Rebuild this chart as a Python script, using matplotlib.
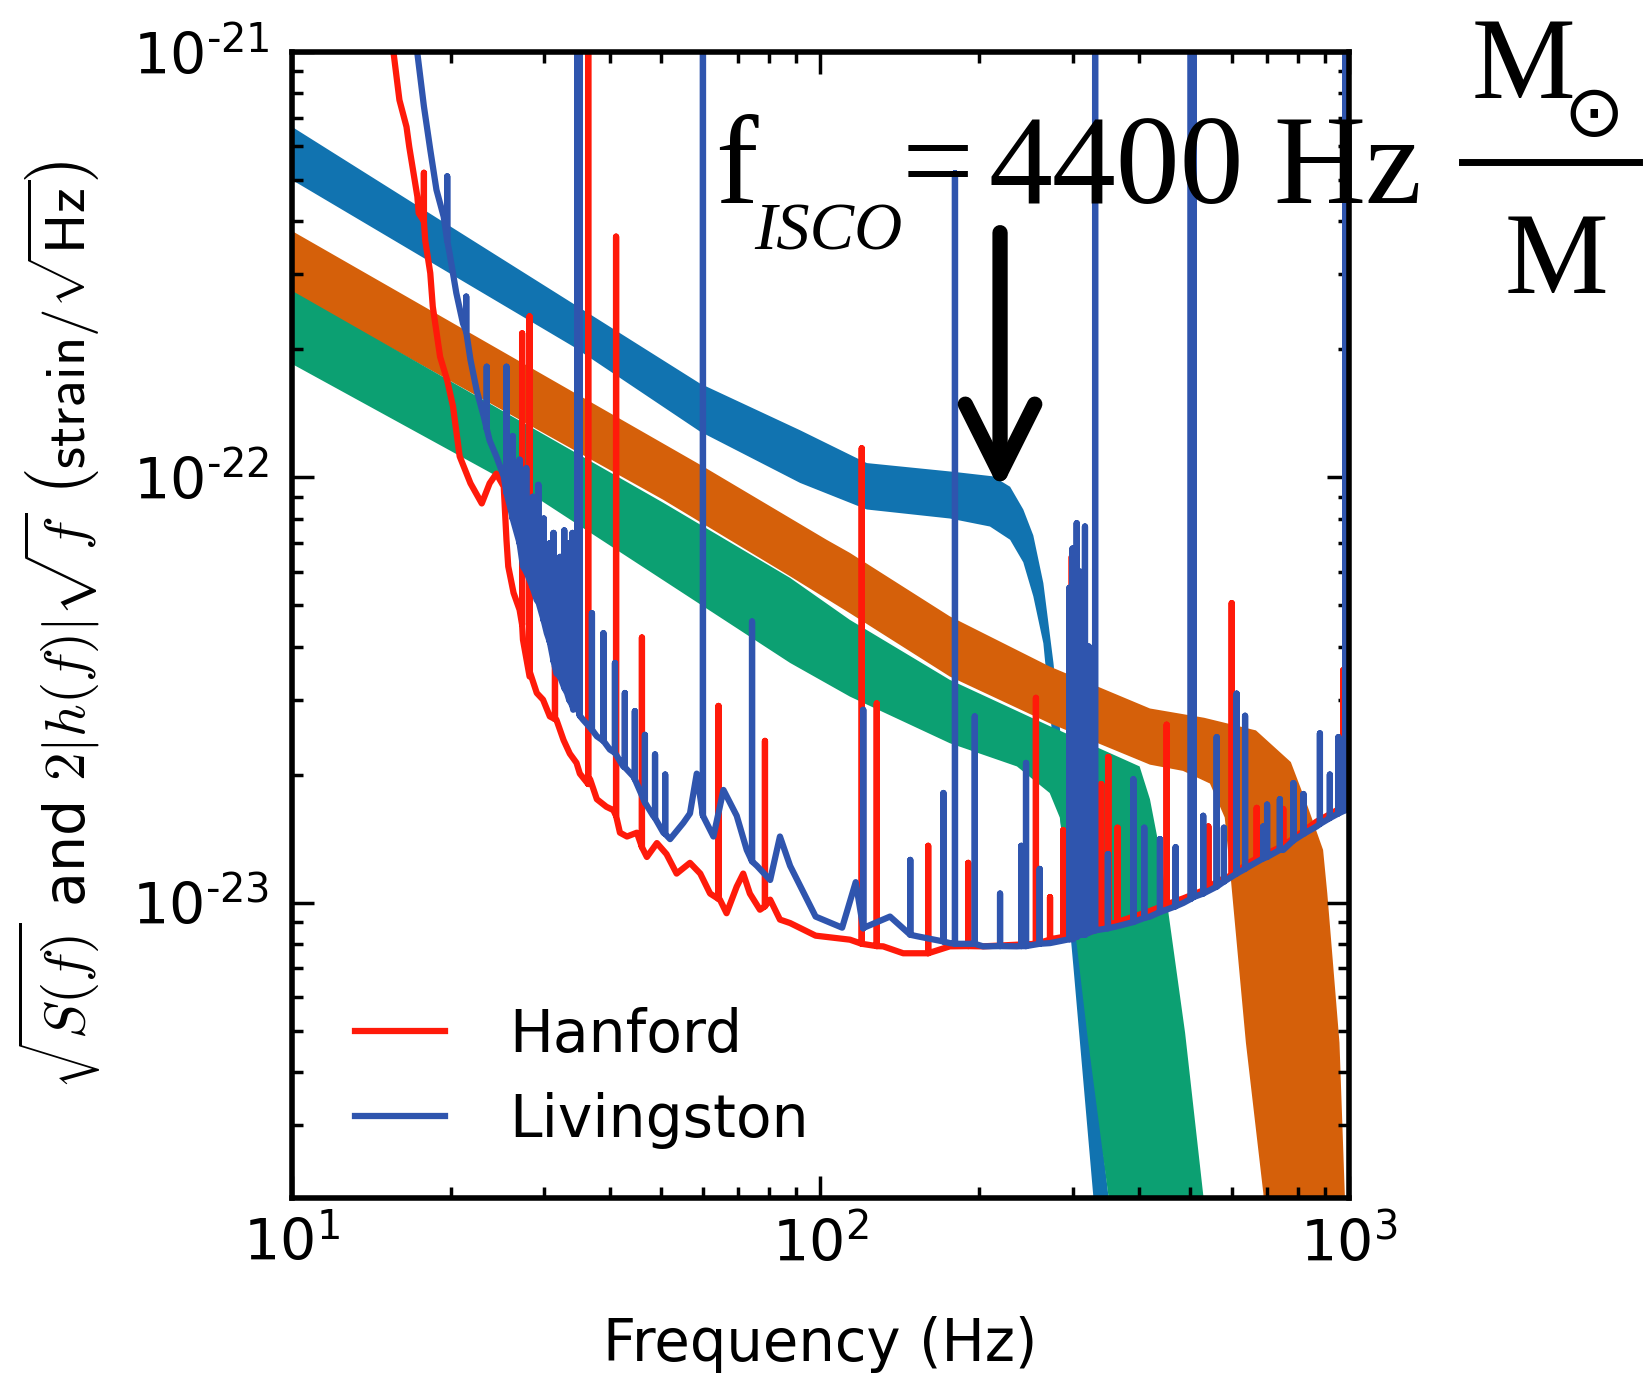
import numpy as np
import matplotlib
matplotlib.use('Agg')
import matplotlib.pyplot as plt
from matplotlib.lines import Line2D
from matplotlib.ticker import FuncFormatter

# amplitudes below are in units of 1e-23 strain/sqrt(Hz), frequencies in Hz
AMP = 1e-23

# ---- template bands 2|h(f)|sqrt(f): upper and lower edges ----
blue_up_f = [10, 34.1, 59.3, 91.6, 122.5, 178.6, 212.3, 228.6, 242.1, 252.9, 264.2, 276.1, 295.1, 316.2, 350.8, 363.1]
blue_up_a = [66.8, 25.6, 16.6, 12.9, 10.8, 10.3, 10.05, 9.5, 8.4, 7.3, 5.64, 3.66, 1.585, 0.631, 0.204, 0.126]
blue_lo_f = [10, 34.1, 59.3, 91.6, 122.5, 175.8, 209.4, 228.6, 242.1, 252.9, 264.2, 281.8, 301.1, 328.4, 338.8]
blue_lo_a = [50.1, 20.3, 12.8, 9.7, 8.4, 8.0, 7.66, 7.13, 6.31, 5.25, 4.07, 1.78, 0.708, 0.204, 0.126]

orange_up_f = [10, 59.3, 102.8, 113.8, 175.8, 271.6, 420.3, 532.1, 666.8, 776.2, 835.6, 893.3, 909.9, 959.4, 981.8, 1000]
orange_up_a = [38.0, 10.7, 7.13, 6.64, 4.71, 3.59, 2.86, 2.72, 2.54, 2.14, 1.68, 1.33, 1.05, 0.468, 0.207, 0.126]
orange_lo_f = [10, 50.5, 87.7, 113.8, 175.8, 271.6, 420.3, 485.3, 545.8, 582.1, 598.4, 638.3, 688.7, 707.9]
orange_lo_a = [27.2, 8.85, 5.85, 4.79, 3.40, 2.64, 2.11, 2.04, 1.905, 1.585, 1.12, 0.468, 0.207, 0.126]

green_up_f = [10, 50.5, 87.7, 113.8, 175.8, 271.6, 401.8, 420.3, 438.5, 451.9, 489.8, 530.4, 549.5]
green_up_a = [27.5, 8.71, 5.80, 4.62, 3.34, 2.60, 2.09, 1.75, 1.33, 1.016, 0.494, 0.204, 0.126]
green_lo_f = [10, 29.5, 87.7, 113.8, 175.8, 235.5, 271.6, 283.8, 298.5, 319.9, 350.8, 363.1]
green_lo_a = [18.5, 8.85, 3.66, 3.05, 2.37, 2.09, 1.81, 1.585, 1.02, 0.49, 0.204, 0.126]

# ---- detector noise: broadband curve + spectral lines (freq, base, peak) ----
han_f = [14.1, 15.6, 16.0, 16.5, 16.7, 17.3, 17.4, 17.9, 18.3, 18.5, 19.1, 19.7, 20.2, 20.8, 21.8,
         22.9, 23.7, 24.4, 25.2, 25.5, 25.7, 26.3, 27.0, 27.4, 28.2, 29.1, 29.9, 30.8, 31.7, 32.7,
         33.6, 34.6, 35.1, 36.7, 37.8, 39.4, 40.6, 41.8, 43.1, 45.0, 47.0, 49.1, 51.2, 53.5, 56.7,
         59.3, 61.9, 64.6, 66.5, 69.5, 71.5, 73.6, 76.9, 80.4, 83.9, 87.7, 98.0, 113.8, 131.5,
         143.5, 158.9, 175.8, 203.2, 235.3, 272, 296.5, 354.8, 420, 486, 562, 650, 751, 868, 1000]
han_a = [251, 99.3, 77.1, 66.7, 59.8, 45.7, 41.8, 36.1, 30.2, 25.2, 19.2, 16.9, 14.7, 11.2, 9.68,
         8.68, 9.68, 10.2, 9.51, 7.13, 6.17, 5.35, 4.88, 4.15, 3.40, 3.11, 3.00, 2.74, 2.69, 2.41,
         2.24, 2.13, 2.01, 1.95, 1.75, 1.68, 1.65, 1.46, 1.43, 1.46, 1.28, 1.38, 1.30, 1.17, 1.24,
         1.17, 1.05, 1.016, 0.944, 1.09, 1.17, 1.05, 0.962, 1.016, 0.912, 0.895, 0.836, 0.818, 0.789,
         0.760, 0.760, 0.789, 0.789, 0.796, 0.818, 0.834, 0.891, 0.955, 1.023, 1.12, 1.245, 1.36, 1.55, 1.70]
han_lines = [(17.8, 40, 52), (27.3, 4.5, 21.8), (28.2, 3.5, 23.9), (31.5, 2.7, 3.6), (36.4, 1.9, 300),
             (41.1, 1.6, 36.8), (46.0, 1.35, 4.2), (64.2, 1.02, 2.9), (78.6, 0.98, 2.4),
             (119.8, 0.80, 11.7), (127.9, 0.79, 2.94), (160, 0.76, 1.36), (190.5, 0.79, 1.24),
             (255.8, 0.80, 3.03), (272, 0.82, 1.03), (288, 0.83, 1.48), (299, 0.83, 6.5),
             (320, 0.85, 1.4), (340, 0.87, 1.9), (350.6, 0.89, 2.2), (365, 0.90, 1.5),
             (452, 0.99, 2.62), (542, 1.08, 1.51), (600, 1.16, 5.06), (669, 1.27, 1.67),
             (751, 1.36, 1.66), (975, 1.68, 3.52)]

liv_f = [15.1, 17.3, 17.8, 18.3, 18.8, 19.4, 19.9, 20.5, 21.1, 21.8, 22.4, 23.1, 23.7, 24.4, 25.2,
         25.9, 27.4, 29.1, 30.4, 31.7, 33.2, 34.1, 35.6, 37.8, 40.0, 42.4, 44.3, 46.3, 48.3, 50.5,
         52.0, 55.1, 56.7, 58.4, 62.8, 65.6, 69.5, 72.6, 75.9, 80.4, 83.9, 87.7, 98, 110, 116.7,
         121, 135.5, 152, 175.8, 203.2, 235.3, 272, 305.4, 363.6, 420.3, 486, 562, 650, 751, 868.4, 1000]
liv_a = [251, 99.3, 74.5, 58.9, 47.4, 41.0, 33.7, 27.1, 23.0, 18.9, 16.0, 13.9, 12.2, 11.2, 10.05,
         8.53, 6.17, 5.14, 4.30, 3.46, 3.11, 2.84, 2.69, 2.46, 2.29, 2.09, 1.98, 1.75, 1.60, 1.46,
         1.41, 1.54, 1.62, 2.01, 1.43, 1.84, 1.60, 1.33, 1.22, 1.13, 1.43, 1.22, 0.927, 0.873, 1.117,
         0.873, 0.927, 0.834, 0.803, 0.789, 0.789, 0.803, 0.834, 0.879, 0.927, 0.998, 1.09, 1.22, 1.33, 1.51, 1.67]
liv_lines = [(19.7, 36, 51), (21.4, 22, 26.6), (23.4, 13, 18.2), (25.5, 9.2, 18.2), (26.2, 8.0, 12.5),
             (27.0, 7.0, 11.0), (27.8, 6.0, 10.5), (28.6, 5.5, 9.0), (29.3, 5.1, 9.6), (30.0, 4.6, 8.0),
             (30.8, 4.1, 7.0), (31.3, 3.7, 7.4), (32.2, 3.4, 6.5), (32.8, 3.2, 7.5), (33.5, 3.0, 7.0),
             (34.0, 2.9, 7.4), (34.7, 2.9, 300), (35.1, 2.75, 300), (37.0, 2.55, 4.79), (38.9, 2.4, 4.30),
             (40.9, 2.25, 3.66), (42.7, 2.08, 3.11), (44.6, 1.95, 2.82), (46.6, 1.72, 2.48),
             (48.7, 1.58, 2.23), (50.9, 1.45, 2.0), (60.0, 1.6, 300), (74.3, 1.25, 4.58),
             (120.6, 0.87, 2.84), (148, 0.84, 1.26), (171, 0.81, 1.81), (179.8, 0.80, 51.9),
             (196, 0.80, 2.74), (218.8, 0.79, 1.05), (240, 0.79, 1.36), (245, 0.79, 2.13),
             (260, 0.80, 1.2), (296, 0.82, 5.5), (300, 0.82, 6.8), (305.5, 0.83, 7.8), (310, 0.84, 6.0),
             (316.7, 0.84, 7.66), (322, 0.85, 4.0), (331, 0.86, 300), (350, 0.87, 1.3), (391, 0.90, 1.95),
             (410, 0.92, 1.5), (439, 0.95, 1.41), (470, 0.98, 1.35), (502, 1.02, 300), (508, 1.03, 300),
             (530, 1.05, 1.6), (562, 1.09, 2.45), (580, 1.12, 1.5), (613, 1.17, 3.10), (636, 1.20, 2.75),
             (688, 1.27, 1.51), (700, 1.28, 1.7), (740, 1.33, 1.75), (785, 1.40, 1.91), (820, 1.45, 1.8),
             (881, 1.53, 2.50), (920, 1.58, 2.0), (955, 1.62, 2.45), (985, 1.65, 300)]


def add_lines(base_f, base_a, lines):
    pts = list(zip(base_f, base_a))
    for f, lo, hi in lines:
        pts += [(f, lo), (f, hi), (f, lo)]
    pts.sort(key=lambda p: p[0])  # stable: keeps lo-hi-lo order
    f, a = zip(*pts)
    return np.array(f), np.array(a) * AMP


def band(ax, up_f, up_a, lo_f, lo_a, color):
    x = np.r_[up_f, lo_f[::-1]]
    y = np.r_[up_a, lo_a[::-1]] * AMP
    ax.fill(x, y, color=color, lw=0)


def pow10(v, pos):
    e = int(round(np.log10(v)))
    return r'$\mathdefault{10^{%s}}$' % str(e).replace('-', '\u2010')


W, H = 1644, 1374
fig = plt.figure(figsize=(W / 100, H / 100), dpi=100)
ax = fig.add_axes([291.5 / W, 1 - 1198 / H, (1349 - 291.5) / W, (1198 - 52) / H])
ax.set_xscale('log')
ax.set_yscale('log')

band(ax, blue_up_f, blue_up_a, blue_lo_f, blue_lo_a, '#1173b0')
band(ax, orange_up_f, orange_up_a, orange_lo_f, orange_lo_a, '#d5600a')
band(ax, green_up_f, green_up_a, green_lo_f, green_lo_a, '#0ca072')

hf, ha = add_lines(han_f, han_a, han_lines)
lf, la = add_lines(liv_f, liv_a, liv_lines)
ax.plot(hf, ha, color='#ff1a0a', lw=4.5, label='Hanford')
ax.plot(lf, la, color='#2f55ae', lw=4.5, label='Livingston')

ax.set_xlim(10, 1000)
ax.set_ylim(2.02e-24, 1e-21)
ax.yaxis.set_major_formatter(FuncFormatter(pow10))

for s in ax.spines.values():
    s.set_linewidth(4)
ax.tick_params(which='both', direction='in', top=True, right=True, width=2.5)
ax.tick_params(which='major', length=16, labelsize=41)
ax.tick_params(which='minor', length=8)
ax.tick_params(axis='x', pad=14)
ax.tick_params(axis='y', pad=16)

ax.set_xlabel('Frequency (Hz)', fontsize=41.5, labelpad=30)
ax.set_ylabel(r'$\sqrt{S(f)}$ and $2|h(f)|\sqrt{f}$ $\left(\mathsf{strain}/\sqrt{\mathsf{Hz}}\right)$',
              fontsize=41, labelpad=21, math_fontfamily='cm')

ax.legend(frameon=False, loc='center left', bbox_to_anchor=(0.06, 0.105), fontsize=42,
          handlelength=1.55, handletextpad=1.1, labelspacing=0.48, borderpad=0, borderaxespad=0)

# f_ISCO arrow
ax.annotate('', xy=(218.8, 9.3e-23), xytext=(218.8, 3.76e-22),
            arrowprops=dict(arrowstyle='->, head_length=1.0, head_width=0.5',
                            lw=11, color='black', mutation_scale=50,
                            shrinkA=0, shrinkB=0))

serif = 'Liberation Serif'
fig.text(715 / W, 1 - 203 / H, 'f', fontsize=92, family=serif, va='baseline')
fig.text(754 / W, 1 - 249 / H, 'ISCO', fontsize=48, family=serif, style='italic', va='baseline')
fig.text(902 / W, 1 - 203 / H, '=', fontsize=92, family=serif, va='baseline')
fig.text(988 / W, 1 - 203 / H, '4400', fontsize=92, family=serif, va='baseline')
fig.text(1273 / W, 1 - 203 / H, 'Hz', fontsize=92, family=serif, va='baseline')
fig.text(1472 / W, 1 - 98 / H, 'M', fontsize=84, family=serif, va='baseline')
fig.text(1594 / W, 1 - 116 / H, '\u2299', fontsize=52, family='DejaVu Sans', ha='center', va='center')
fig.text(1505 / W, 1 - 293 / H, 'M', fontsize=84, family=serif, va='baseline')
fig.add_artist(Line2D([1462 / W, 1639 / W], [1 - 162 / H, 1 - 162 / H], color='black', lw=5))

fig.savefig('out.png', dpi=100)
